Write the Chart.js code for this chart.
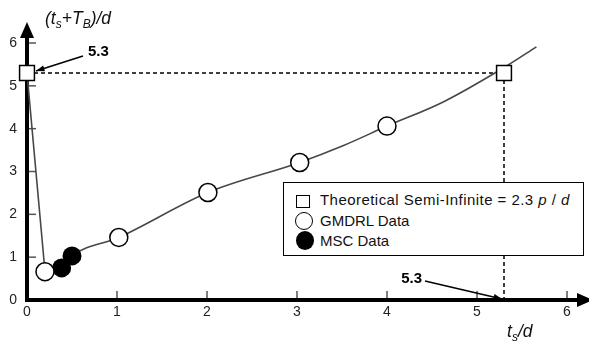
<!DOCTYPE html>
<html>
<head>
<meta charset="utf-8">
<script src="https://cdn.jsdelivr.net/npm/chart.js@4"></script>
<style>
  body { margin: 0; background: #fff; font-family: "Liberation Sans", Arial, sans-serif; }
  #wrap { position: relative; width: 589px; height: 341px; overflow: hidden; }
  canvas { position: absolute; left: 0; top: 0; }
  .title { position: absolute; font-style: italic; font-size: 17.5px; color: #111; white-space: nowrap; }
  .title sub { font-size: 12px; vertical-align: -4px; }
  #legend { position: absolute; left: 283px; top: 182px; width: 299px; height: 72px;
            border: 1.5px solid #000; background: #fff; }
  #legend .row { position: absolute; left: 36px; font-size: 15px; color: #111; white-space: nowrap; line-height: 18px; }
  #legend .mk { position: absolute; box-sizing: border-box; }
</style>
</head>
<body>
<div id="wrap">
  <canvas id="chart" width="589" height="341"></canvas>
  <div class="title" style="left:45px; top:8px;">(t<sub>s</sub>+T<sub>B</sub>)/d</div>
  <div class="title" style="left:507px; top:321px;">t<sub>s</sub>/d</div>
  <div id="legend">
    <div class="mk" style="left:12px; top:12px; width:14px; height:13px; border:1.5px solid #000;"></div>
    <div class="row" style="top:8px; letter-spacing:0.45px;">Theoretical Semi-Infinite = 2.3 <i>p</i> / <i>d</i></div>
    <div class="mk" style="left:11px; top:29px; width:18px; height:18px; border:1.5px solid #000; border-radius:50%;"></div>
    <div class="row" style="top:29px;">GMDRL Data</div>
    <div class="mk" style="left:12px; top:48px; width:18px; height:19px; background:#000; border-radius:50%;"></div>
    <div class="row" style="top:49px;">MSC Data</div>
  </div>
</div>
<script>
// values
const xTicks = [0, 1, 2, 3, 4, 5, 6];
const yTicks = [0, 1, 2, 3, 4, 5, 6];

const theoryX = [0, 5.3];
const theoryY = [5.3, 5.3];

const gmdrlX = [0.2, 1.02, 2.01, 3.03, 4.0];
const gmdrlY = [0.66, 1.46, 2.51, 3.21, 4.06];

const mscX = [0.385, 0.5];
const mscY = [0.75, 1.03];

// steep drop from the theoretical point to the first data point
const dropX = [0, 0.2];
const dropY = [5.3, 0.66];

// fitted curve through the data
const curveX = [0.2, 0.385, 0.5, 1.02, 2.01, 3.03, 3.51, 4.0, 4.63, 5.31, 5.66];
const curveY = [0.66, 0.75, 1.03, 1.46, 2.51, 3.21, 3.6, 4.06, 4.63, 5.44, 5.91];

// dashed guide lines at 5.3
const guideHX = [0, 5.3];
const guideHY = [5.3, 5.3];
const guideVX = [5.3, 5.3];
const guideVY = [5.3, 0];

const pts = (xs, ys) => xs.map((x, i) => ({ x, y: ys[i] }));

const decor = {
  id: "decor",
  beforeDatasetsDraw(chart) {
    const { ctx, scales: { x, y } } = chart;
    const x0 = x.getPixelForValue(0);
    const y0 = y.getPixelForValue(0);
    ctx.save();
    // inward ticks
    ctx.strokeStyle = "#555";
    ctx.lineWidth = 1.5;
    yTicks.slice(1).forEach((v) => {
      const py = y.getPixelForValue(v);
      ctx.beginPath(); ctx.moveTo(x0, py); ctx.lineTo(x0 + 9, py); ctx.stroke();
    });
    xTicks.slice(1).forEach((v) => {
      const px = x.getPixelForValue(v);
      ctx.beginPath(); ctx.moveTo(px, y0); ctx.lineTo(px, y0 - 9); ctx.stroke();
    });
    // thick axes
    ctx.strokeStyle = "#000";
    ctx.fillStyle = "#000";
    ctx.lineWidth = 4;
    ctx.beginPath();
    ctx.moveTo(x0, y0 + 2); ctx.lineTo(x0, 36);
    ctx.moveTo(x0 - 2, y0); ctx.lineTo(578, y0);
    ctx.stroke();
    // arrow heads
    ctx.beginPath();
    ctx.moveTo(x0, 22); ctx.lineTo(x0 - 7, 38); ctx.lineTo(x0 + 7, 38); ctx.closePath();
    ctx.fill();
    ctx.beginPath();
    ctx.moveTo(593, y0); ctx.lineTo(577, y0 - 7); ctx.lineTo(577, y0 + 7); ctx.closePath();
    ctx.fill();
    ctx.restore();
  },
  afterDatasetsDraw(chart) {
    const { ctx, scales: { x, y } } = chart;
    const arrow = (fx, fy, tx, ty) => {
      const a = Math.atan2(ty - fy, tx - fx);
      ctx.beginPath(); ctx.moveTo(fx, fy); ctx.lineTo(tx, ty); ctx.stroke();
      ctx.beginPath();
      ctx.moveTo(tx, ty);
      ctx.lineTo(tx - 9 * Math.cos(a - 0.35), ty - 9 * Math.sin(a - 0.35));
      ctx.lineTo(tx - 9 * Math.cos(a + 0.35), ty - 9 * Math.sin(a + 0.35));
      ctx.closePath(); ctx.fill();
    };
    ctx.save();
    ctx.strokeStyle = "#000";
    ctx.fillStyle = "#000";
    ctx.lineWidth = 1.5;
    ctx.font = "bold 15px 'Liberation Sans', Arial, sans-serif";
    ctx.textBaseline = "middle";

    // label pointing at the theoretical point on the y axis
    const ax = x.getPixelForValue(theoryX[0]);
    const ay = y.getPixelForValue(theoryY[0]);
    arrow(ax + 56, ay - 17, ax + 9, ay - 2);
    ctx.textAlign = "left";
    ctx.fillText("5.3", ax + 61, ay - 21);

    // label pointing at 5.3 on the x axis
    const bx = x.getPixelForValue(theoryX[1]);
    const by = y.getPixelForValue(0);
    arrow(bx - 79, by - 19, bx - 2, by - 1);
    ctx.textAlign = "right";
    ctx.fillText("5.3", bx - 82, by - 21);
    ctx.restore();
  }
};

new Chart(document.getElementById("chart"), {
  type: "scatter",
  data: {
    datasets: [
      {
        label: "Theoretical Semi-Infinite",
        data: pts(theoryX, theoryY),
        pointStyle: "rect",
        pointRadius: 10.5,
        pointBorderWidth: 1.5,
        pointBackgroundColor: "#fff",
        pointBorderColor: "#000",
        clip: false,
        order: 0,
      },
      {
        label: "GMDRL Data",
        data: pts(gmdrlX, gmdrlY),
        pointStyle: "circle",
        pointRadius: 9,
        pointBorderWidth: 1.5,
        pointBackgroundColor: "#fff",
        pointBorderColor: "#000",
        clip: false,
        order: 1,
      },
      {
        label: "MSC Data",
        data: pts(mscX, mscY),
        pointStyle: "circle",
        pointRadius: 9.5,
        pointBorderWidth: 0,
        pointBackgroundColor: "#000",
        pointBorderColor: "#000",
        clip: false,
        order: 2,
      },
      {
        label: "curve",
        data: pts(curveX, curveY),
        showLine: true,
        borderColor: "#4a4646",
        borderWidth: 1.6,
        cubicInterpolationMode: "monotone",
        pointRadius: 0,
        clip: false,
        order: 5,
      },
      {
        label: "drop",
        data: pts(dropX, dropY),
        showLine: true,
        borderColor: "#4a4646",
        borderWidth: 1.6,
        pointRadius: 0,
        clip: false,
        order: 5,
      },
      {
        label: "guideH",
        data: pts(guideHX, guideHY),
        showLine: true,
        borderColor: "#000",
        borderWidth: 1.5,
        borderDash: [4, 3],
        pointRadius: 0,
        clip: false,
        order: 6,
      },
      {
        label: "guideV",
        data: pts(guideVX, guideVY),
        showLine: true,
        borderColor: "#000",
        borderWidth: 1.5,
        borderDash: [4, 3],
        pointRadius: 0,
        clip: false,
        order: 6,
      },
    ],
  },
  options: {
    responsive: false,
    animation: false,
    layout: { padding: { top: 43, right: 22, left: 0, bottom: 0 } },
    plugins: { legend: { display: false }, tooltip: { enabled: false } },
    scales: {
      x: {
        type: "linear",
        min: 0,
        max: 6,
        afterBuildTicks: (s) => { s.ticks = xTicks.map((v) => ({ value: v })); },
        afterFit: (s) => { s.height = 41; },
        ticks: { padding: 4, color: "#222", font: { size: 14, family: "'Liberation Sans', Arial, sans-serif" } },
        grid: { display: false, drawTicks: false },
        border: { display: false },
      },
      y: {
        min: 0,
        max: 6,
        afterBuildTicks: (s) => { s.ticks = yTicks.map((v) => ({ value: v })); },
        afterFit: (s) => { s.width = 27; },
        ticks: { padding: 10, color: "#222", font: { size: 14, family: "'Liberation Sans', Arial, sans-serif" } },
        grid: { display: false, drawTicks: false },
        border: { display: false },
      },
    },
  },
  plugins: [decor],
});
</script>
</body>
</html>
